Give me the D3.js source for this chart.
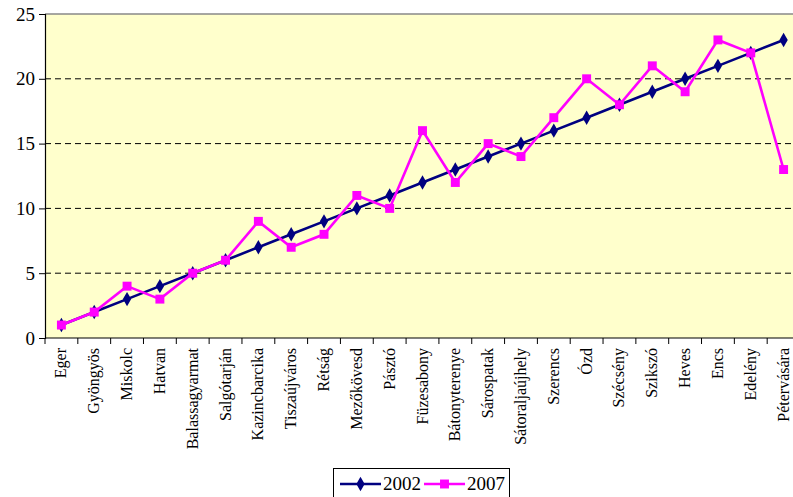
<!DOCTYPE html>
<html>
<head>
<meta charset="utf-8">
<script src="https://cdn.jsdelivr.net/npm/d3@7"></script>
<style>
  body { margin: 0; background: #fff; }
  svg { display: block; }
</style>
</head>
<body>
<div id="chart"></div>
<script>
// Cities in the order of the 2002 ranking.
const cities = ["Eger", "Gyöngyös", "Miskolc", "Hatvan", "Balassagyarmat", "Salgótarján",
  "Kazincbarcika", "Tiszaújváros", "Rétság", "Mezőkövesd", "Pásztó", "Füzesabony",
  "Bátonyterenye", "Sárospatak", "Sátoraljaújhely", "Szerencs", "Ózd", "Szécsény",
  "Szikszó", "Heves", "Encs", "Edelény", "Pétervására"];
const values2002 = [1, 2, 3, 4, 5, 6, 7, 8, 9, 10, 11, 12, 13, 14, 15, 16, 17, 18, 19, 20, 21, 22, 23];
const values2007 = [1, 2, 4, 3, 5, 6, 9, 7, 8, 11, 10, 16, 12, 15, 14, 17, 20, 18, 21, 19, 23, 22, 13];
const yTicks = [0, 5, 10, 15, 20, 25];

const width = 793, height = 497;
const plot = { left: 45, top: 14, right: 800, bottom: 338 };
const serif = "'Liberation Serif', 'Times New Roman', serif";

const svg = d3.select("#chart").append("svg")
  .attr("width", width)
  .attr("height", height);

const x = d3.scaleBand()
  .domain(cities)
  .range([plot.left, plot.right]);

const y = d3.scaleLinear()
  .domain([0, 25])
  .range([plot.bottom, plot.top]);

// Plot background
svg.append("rect")
  .attr("x", plot.left)
  .attr("y", plot.top)
  .attr("width", plot.right - plot.left)
  .attr("height", plot.bottom - plot.top)
  .attr("fill", "#ffffcc");

// Dashed gridlines
svg.append("g")
  .selectAll("line")
  .data(yTicks.filter(d => d > 0 && d < 25))
  .enter()
  .append("line")
  .attr("x1", plot.left)
  .attr("x2", plot.right)
  .attr("y1", d => y(d))
  .attr("y2", d => y(d))
  .attr("stroke", "#000")
  .attr("stroke-width", 1)
  .attr("stroke-dasharray", "6,4");

// Top border of the plot area
svg.append("line")
  .attr("x1", plot.left)
  .attr("x2", plot.right)
  .attr("y1", y(25))
  .attr("y2", y(25))
  .attr("stroke", "#888")
  .attr("stroke-width", 1.5);

// Y axis
const yAxis = svg.append("g")
  .attr("transform", `translate(${plot.left},0)`)
  .call(d3.axisLeft(y).tickValues(yTicks).tickSize(6).tickPadding(4));
yAxis.selectAll("text")
  .style("font-family", serif)
  .style("font-size", "19px")
  .attr("fill", "#000");
yAxis.selectAll("line, path").attr("stroke", "#000");
yAxis.select("path").attr("stroke-width", 1.2);

// X axis: ticks between categories
const xAxisG = svg.append("g");
xAxisG.append("line")
  .attr("x1", plot.left)
  .attr("x2", plot.right)
  .attr("y1", plot.bottom)
  .attr("y2", plot.bottom)
  .attr("stroke", "#000")
  .attr("stroke-width", 1.2);
xAxisG.selectAll("line.tick")
  .data(cities)
  .enter()
  .append("line")
  .attr("class", "tick")
  .attr("x1", d => x(d))
  .attr("x2", d => x(d))
  .attr("y1", plot.bottom)
  .attr("y2", plot.bottom + 6)
  .attr("stroke", "#000");
xAxisG.selectAll("text")
  .data(cities)
  .enter()
  .append("text")
  .attr("transform", d => `translate(${x(d) + x.bandwidth() / 2 + 5},${plot.bottom + 10}) rotate(-90)`)
  .attr("text-anchor", "end")
  .style("font-family", serif)
  .style("font-size", "16px")
  .attr("fill", "#000")
  .text(d => d);

const cx = d => x(d) + x.bandwidth() / 2;

const line = d3.line()
  .x((d, i) => cx(cities[i]))
  .y(d => y(d));

const series = [
  { name: "2002", values: values2002, color: "#000080", marker: "diamond" },
  { name: "2007", values: values2007, color: "#ff00ff", marker: "square" }
];

function markerPath(type) {
  return type === "diamond"
    ? d3.symbol().type(d3.symbolDiamond).size(60)()
    : d3.symbol().type(d3.symbolSquare).size(80)();
}

// 2002 first, 2007 drawn on top
series.forEach(s => {
  svg.append("path")
    .datum(s.values)
    .attr("fill", "none")
    .attr("stroke", s.color)
    .attr("stroke-width", 2.6)
    .attr("d", line);

  svg.append("g")
    .selectAll("path")
    .data(s.values)
    .enter()
    .append("path")
    .attr("transform", (d, i) => `translate(${cx(cities[i])},${y(d)})`)
    .attr("d", markerPath(s.marker))
    .attr("fill", s.color);
});

// Legend
const legend = svg.append("g").attr("transform", "translate(333,468)");
legend.append("rect")
  .attr("x", 0.5)
  .attr("y", 0.5)
  .attr("width", 176)
  .attr("height", 40)
  .attr("fill", "#fff")
  .attr("stroke", "#000");

const legendItems = [
  { s: series[0], x0: 7 },
  { s: series[1], x0: 91 }
];
legendItems.forEach(item => {
  const g = legend.append("g").attr("transform", `translate(${item.x0},16)`);
  g.append("line")
    .attr("x1", 0)
    .attr("x2", 41)
    .attr("y1", 0)
    .attr("y2", 0)
    .attr("stroke", item.s.color)
    .attr("stroke-width", 2.6);
  g.append("path")
    .attr("transform", "translate(20.5,0)")
    .attr("d", markerPath(item.s.marker))
    .attr("fill", item.s.color);
  g.append("text")
    .attr("x", 43)
    .attr("y", 6)
    .style("font-family", serif)
    .style("font-size", "19px")
    .attr("fill", "#000")
    .text(item.s.name);
});
</script>
</body>
</html>
